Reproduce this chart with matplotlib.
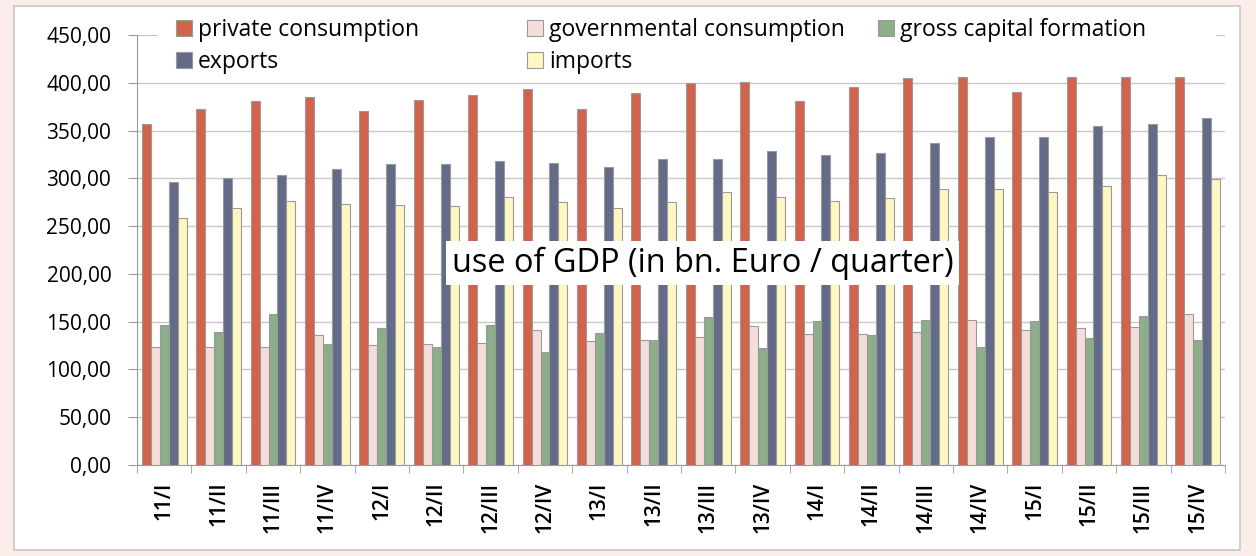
import numpy as np
import matplotlib.pyplot as plt
from matplotlib.patches import Rectangle
from matplotlib.ticker import FuncFormatter, FixedLocator

plt.rcParams['font.family'] = ['Open Sans', 'DejaVu Sans']

quarters = ["11/I", "11/II", "11/III", "11/IV", "12/I", "12/II", "12/III", "12/IV",
            "13/I", "13/II", "13/III", "13/IV", "14/I", "14/II", "14/III", "14/IV",
            "15/I", "15/II", "15/III", "15/IV"]

private_cons = [357, 373, 381, 385, 370, 382, 387, 394, 373, 389,
                400, 401, 381, 396, 405, 406, 390, 406, 406, 406]
gov_cons = [123, 123, 123, 136, 126, 127, 128, 141, 130, 131,
            134, 145, 137, 137, 139, 152, 141, 143, 144, 158]
capital_form = [147, 139, 158, 127, 143, 124, 146, 118, 138, 131,
                155, 122, 151, 136, 152, 123, 151, 133, 156, 131]
exports = [296, 300, 303, 310, 315, 315, 318, 316, 312, 320,
           320, 329, 324, 327, 337, 343, 343, 355, 357, 363]
imports = [259, 269, 276, 273, 272, 271, 280, 275, 269, 275,
           286, 280, 276, 279, 289, 289, 286, 292, 304, 299]

series = [
    ("private consumption", private_cons, "#D0634A"),
    ("governmental consumption", gov_cons, "#F5DEDA"),
    ("gross capital formation", capital_form, "#8CAE88"),
    ("exports", exports, "#646B88"),
    ("imports", imports, "#FFF7C2"),
]

W, H = 1256, 556
fig = plt.figure(figsize=(W / 100, H / 100), dpi=100)
fig.patch.set_facecolor("#FBEEEA")
# white panel behind the chart
fig.patches.append(Rectangle((14 / W, 6 / H), 1226 / W, 544 / H,
                             transform=fig.transFigure, facecolor="white",
                             edgecolor="#C8C8C8", linewidth=1.2, zorder=-10))

ax = fig.add_axes([137 / W, 1 - 465 / H, (1225 - 137) / W, (465 - 35) / H])
ax.set_facecolor("none")

x = np.arange(len(quarters))
w = 0.165
handles = {}
for i, (name, vals, col) in enumerate(series):
    handles[name] = ax.bar(x + (i - 2) * w, vals, width=w, color=col,
                           edgecolor="#9A9A9A", linewidth=0.8, zorder=3, label=name)

ax.set_xlim(-0.5, len(quarters) - 0.5)
ax.set_ylim(0, 450)
ax.set_yticks(np.arange(0, 451, 50))
ax.yaxis.set_major_formatter(FuncFormatter(lambda v, p: f"{v:.2f}".replace(".", ",")))
ax.grid(axis="y", color="#C8C8C8", linewidth=1, zorder=0)
ax.set_axisbelow(True)

ax.set_xticks(x)
ax.set_xticklabels(quarters, rotation=90, fontsize=15, fontweight="semibold")
ax.xaxis.set_minor_locator(FixedLocator(np.arange(-0.5, len(quarters), 1)))
ax.tick_params(axis="x", which="major", length=0, pad=12)
ax.tick_params(axis="x", which="minor", length=6, color="#9A9A9A")
ax.tick_params(axis="y", length=6.5, color="#9A9A9A", labelsize=15, pad=12)

for s in ["top", "right"]:
    ax.spines[s].set_visible(False)
for s in ["left", "bottom"]:
    ax.spines[s].set_color("#9A9A9A")

# white band behind the legend (hides the top gridline like the original)
fig.patches.append(Rectangle((158 / W, 1 - 76 / H), (1216 - 158) / W, 68 / H,
                             transform=fig.transFigure, facecolor="white",
                             edgecolor="none", zorder=4))

columns = [(176, ["private consumption", "exports"]),
           (527, ["governmental consumption", "imports"]),
           (878, ["gross capital formation"])]
for left, names in columns:
    leg = fig.legend([handles[n] for n in names], names, loc="upper left",
                     bbox_to_anchor=(left / W, 1 - 18 / H), fontsize=16.5,
                     frameon=False, handlelength=0.7, handleheight=0.7,
                     handletextpad=0.25, labelspacing=0.35, borderpad=0,
                     borderaxespad=0)
    leg.set_zorder(5)

ax.text(0.52, 0.47, "use of GDP (in bn. Euro / quarter)", transform=ax.transAxes,
        ha="center", va="center", fontsize=23.4, zorder=6,
        bbox=dict(facecolor="white", edgecolor="none", pad=4))

fig.savefig("out.png", dpi=100, facecolor=fig.get_facecolor())
